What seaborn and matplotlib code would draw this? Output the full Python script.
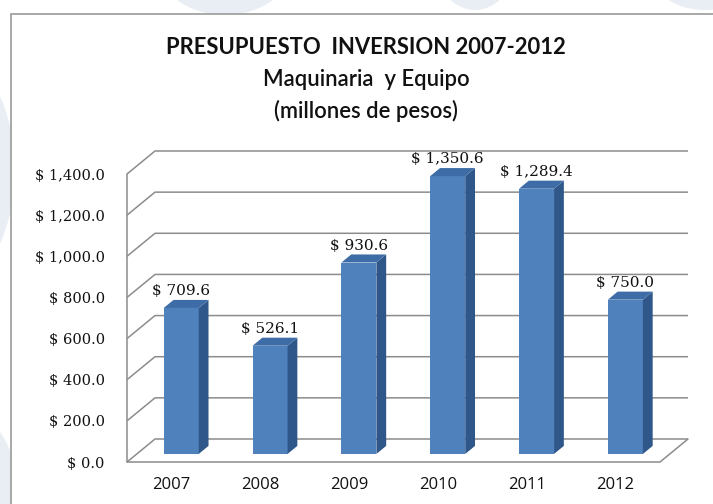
import matplotlib
matplotlib.use("Agg")
import matplotlib.pyplot as plt
from matplotlib.patches import Polygon, Rectangle, Ellipse
import seaborn as sns
import pandas as pd

# Budget data (millions of pesos)
years = ["2007", "2008", "2009", "2010", "2011", "2012"]
inversion = [709.6, 526.1, 930.6, 1350.6, 1289.4, 750.0]
y_ticks = [0, 200, 400, 600, 800, 1000, 1200, 1400]
y_tick_labels = ["$ 0.0", "$ 200.0", "$ 400.0", "$ 600.0", "$ 800.0",
                 "$ 1,000.0", "$ 1,200.0", "$ 1,400.0"]
title_lines = ["PRESUPUESTO  INVERSION 2007-2012",
               "Maquinaria  y Equipo",
               "(millones de pesos)"]

W, H = 713, 504
FRONT = "#4F81BD"
SIDE = "#30578A"
TOP = "#3E6CA6"
GRID = "#8C8C8C"
WATER = "#E9EEF5"

sns.set_theme(style="white")
fig = plt.figure(figsize=(W / 100, H / 100), dpi=100)
fig.patch.set_facecolor("white")


def fx(px):
    return px / W


def fy(py):
    return 1 - py / H


# faint background shapes around the chart frame
for shape in [
    Ellipse((fx(225), fy(-40)), 140 / W, 110 / H),
    Ellipse((fx(475), fy(-25)), 70 / W, 70 / H),
    Ellipse((fx(705), fy(-30)), 110 / W, 80 / H),
    Ellipse((fx(-70), fy(170)), 170 / W, 260 / H),
    Ellipse((fx(-40), fy(480)), 110 / W, 140 / H),
]:
    shape.set_transform(fig.transFigure)
    shape.set_facecolor(WATER)
    shape.set_edgecolor("none")
    shape.set_zorder(-3)
    fig.add_artist(shape)

# chart frame
frame = Rectangle((fx(11), fy(520)), (W + 20) / W, (520 - 14) / H,
                  transform=fig.transFigure, facecolor="white",
                  edgecolor="#9A9A9A", linewidth=1.2, zorder=-2)
fig.add_artist(frame)

# plot area = front plane of the 3D box
ax = fig.add_axes([fx(127), 42 / H, 533 / W, 288 / H])
ax.set_facecolor("none")
ax.set_zorder(1)

df = pd.DataFrame({"year": years, "value": inversion})
sns.barplot(data=df, x="year", y="value", ax=ax, color=FRONT,
            saturation=1, width=0.394, zorder=3)

ax.set_xlim(-0.5, 5.5)
ax.set_ylim(0, 1400)

# depth of the box in data units
DX = 28 / (533 / 6)
DY = 23 * 1400 / 288
F0, F1 = 0.35, 0.70          # bars occupy this slice of the depth

# walls and gridlines
for v in y_ticks:
    ax.plot([-0.5, -0.5 + DX, 5.5 + DX], [v, v + DY, v + DY],
            color=GRID, lw=1.1, clip_on=False, zorder=1,
            solid_capstyle="butt")
ax.plot([-0.5, 5.5, 5.5 + DX], [0, 0, DY], color=GRID, lw=1.1,
        clip_on=False, zorder=1)
ax.plot([-0.5, -0.5], [0, 1400], color=GRID, lw=1.1, clip_on=False,
        zorder=1)

# 3D bars: shift front faces into depth and add side/top faces
bdx = (F1 - F0) * DX
bdy = (F1 - F0) * DY
for p, v in zip(ax.patches, inversion):
    x0 = p.get_x() + F0 * DX
    y0 = F0 * DY
    w = p.get_width()
    h = p.get_height()
    p.set_x(x0)
    p.set_y(y0)
    p.set_edgecolor("none")
    p.set_clip_on(False)
    side = Polygon([(x0 + w, y0), (x0 + w + bdx, y0 + bdy),
                    (x0 + w + bdx, y0 + h + bdy), (x0 + w, y0 + h)],
                   closed=True, facecolor=SIDE, edgecolor="none",
                   clip_on=False, zorder=3)
    top = Polygon([(x0, y0 + h), (x0 + w, y0 + h),
                   (x0 + w + bdx, y0 + h + bdy), (x0 + bdx, y0 + h + bdy)],
                  closed=True, facecolor=TOP, edgecolor="none",
                  clip_on=False, zorder=3)
    ax.add_patch(side)
    ax.add_patch(top)
    ax.text(x0 + w / 2, y0 + h + bdy + 24, f"$ {v:,.1f}",
            ha="center", va="baseline", fontsize=11,
            family="DejaVu Serif", color="#111111", zorder=4)

for s in ax.spines.values():
    s.set_visible(False)
ax.grid(False)
ax.set_xlabel("")
ax.set_ylabel("")
ax.set_yticks(y_ticks, labels=y_tick_labels)
ax.set_xticks(range(len(years)), labels=years)
ax.tick_params(axis="y", length=0, pad=16, labelsize=10.5,
               labelcolor="#111111")
ax.tick_params(axis="x", length=0, pad=11, labelsize=12,
               labelcolor="#111111")
for lab in ax.get_yticklabels():
    lab.set_family("DejaVu Serif")
for lab in ax.get_xticklabels():
    lab.set_family("Open Sans")

# title block
fig.text(fx(366), fy(48), title_lines[0], ha="center", va="center",
         fontsize=15.8, weight="bold", family="Lato", color="#111111")
fig.text(fx(366), fy(80), title_lines[1], ha="center", va="center",
         fontsize=15.8, weight="semibold", family="Lato", color="#111111")
fig.text(fx(366), fy(111), title_lines[2], ha="center", va="center",
         fontsize=15.8, weight="semibold", family="Lato", color="#111111")

fig.savefig("out.png", dpi=100)
